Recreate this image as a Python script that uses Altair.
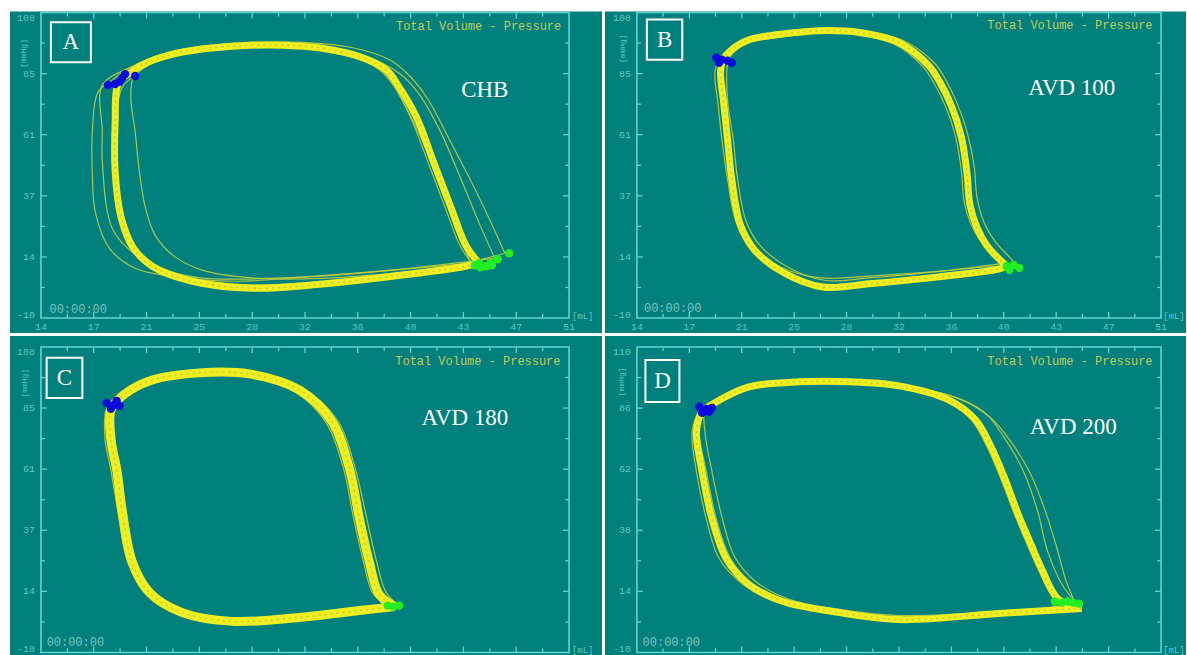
import altair as alt
import pandas as pd

# ---------------------------------------------------------------- styling
MONO = "Liberation Mono"
SERIF = "Liberation Serif"
TEAL = "#00807c"
FRAME = "#62d2d2"
LABEL = "#58c8c8"
CAPTION = "#c9c955"
CLOCK = "#7cc2c0"
BAND = "#eeee22"
STRAND = "#c2cc40"
SPECKLE = "#a9b51e"
ES_BLUE = "#0b0bdc"
ED_GREEN = "#22ee22"

# ---------------------------------------------------------------- axes
VOL_TICKS = [14.0, 17.7, 21.4, 25.1, 28.8, 32.5, 36.2, 39.9, 43.6, 47.3, 51.0]
VOL_LABELS = ["14", "17", "21", "25", "28", "32", "36", "40", "43", "47", "51"]
P_TICKS = [-10.0, 13.6, 37.2, 60.8, 84.4, 108.0]
P_LABELS = ["-10", "14", "37", "61", "85", "108"]
P_TICKS_D = [-10.0, 14.0, 38.0, 62.0, 86.0, 110.0]
P_LABELS_D = ["-10", "14", "38", "62", "86", "110"]

# ---------------------------------------------------------------- loops (volume mL, pressure mmHg)
A_MAIN = [(44.7, 11.2), (43.8, 17.7), (42.7, 33.1), (41.5, 50.4), (40.3, 67.7), (39.1, 79.2),
          (38.2, 85.8), (36.4, 90.8), (33.7, 94.2), (30.9, 95.4), (27.4, 95.0), (23.9, 92.7),
          (21.5, 88.8), (20.1, 84.2), (19.4, 80.4), (19.2, 65.8), (19.2, 46.5), (19.6, 29.2),
          (20.4, 17.7), (21.8, 10.0), (24.6, 4.2), (28.8, 1.5), (33.7, 3.1), (39.2, 6.5),
          (43.4, 9.6), (44.7, 11.2)]
A_OUTER_LEFT = [(44.1, 11.2), (43.1, 25.4), (42.0, 40.8), (40.6, 60.0), (39.2, 75.4), (38.2, 84.2),
                (35.7, 91.9), (32.3, 95.0), (28.8, 95.8), (25.3, 94.6), (22.5, 91.9), (20.3, 86.9),
                (19.0, 81.9), (18.0, 77.3), (17.6, 61.9), (17.6, 46.5), (17.8, 31.2), (18.8, 16.9),
                (20.6, 9.2), (23.0, 6.2), (27.6, 4.2), (32.3, 5.8), (39.2, 8.8), (44.1, 11.2)]
A_OUTER_RIGHT = [(46.5, 15.0), (45.5, 27.3), (44.5, 38.8), (42.7, 58.1), (41.1, 74.6), (39.9, 83.1),
                 (38.5, 89.6), (35.7, 94.6), (32.3, 96.5), (28.8, 96.5), (25.3, 95.0), (22.5, 91.9),
                 (20.6, 83.8), (19.7, 79.2), (19.2, 61.9), (19.4, 42.7), (19.9, 27.3), (21.1, 13.8),
                 (23.2, 7.3), (27.4, 3.1), (32.3, 3.5), (39.2, 7.3), (43.4, 10.8), (46.5, 15.0)]
A_MID = [(45.8, 13.1), (44.8, 25.4), (43.5, 42.7), (42.0, 61.9), (40.5, 76.5), (39.2, 84.2),
         (36.4, 91.9), (32.3, 95.4), (28.8, 95.8), (25.3, 94.6), (22.5, 91.9), (20.3, 86.9),
         (18.3, 80.0), (18.3, 61.9), (18.3, 50.4), (19.0, 24.6), (20.6, 14.6), (23.0, 8.1),
         (25.3, 5.4), (32.3, 5.8), (39.2, 8.8), (45.8, 13.1)]
A_INNER = [(44.3, 10.5), (43.4, 17.5), (42.3, 33.0), (41.1, 50.5), (39.9, 67.5), (38.8, 79.0),
           (37.8, 85.5), (36.2, 90.3), (33.7, 93.7), (30.9, 94.9), (27.4, 94.5), (23.9, 92.2),
           (21.6, 88.3), (20.5, 83.5), (20.3, 75.0), (20.6, 62.0), (20.9, 46.5), (21.3, 33.0),
           (22.0, 22.0), (23.3, 14.0), (25.3, 8.5), (28.8, 5.5), (33.7, 5.3), (39.2, 7.5),
           (44.3, 10.5)]
A_ES = [(18.7, 80.0), (19.2, 80.4), (19.5, 81.2), (19.7, 82.7), (19.9, 84.2), (20.6, 83.5)]
A_ED = [(44.4, 10.4), (44.7, 11.2), (44.8, 9.6), (45.2, 10.0), (45.5, 11.2), (45.6, 10.4),
        (46.0, 12.7), (46.8, 15.0)]

B_MAIN = [(40.1, 10.1), (39.6, 12.6), (38.7, 18.0), (38.0, 25.0), (37.5, 34.0), (37.3, 46.0),
          (36.9, 60.0), (36.2, 72.0), (35.4, 81.0), (34.6, 87.5), (32.5, 96.4), (29.7, 100.3),
          (26.9, 101.0), (24.0, 99.5), (21.9, 97.5), (20.7, 93.7), (20.1, 89.8), (19.9, 85.2),
          (20.1, 74.3), (20.4, 58.9), (20.7, 43.4), (21.3, 26.0), (22.3, 16.3), (24.4, 7.4),
          (27.1, 2.0), (30.4, 3.2), (35.3, 5.9), (39.6, 9.0), (40.1, 10.1)]
B_OUTER = [(41.0, 9.3), (40.3, 13.5), (39.3, 19.5), (38.5, 27.0), (38.0, 37.0), (37.8, 49.0),
           (37.3, 62.0), (36.6, 73.0), (35.8, 82.0), (35.0, 88.5), (32.8, 97.2), (29.7, 101.0),
           (26.9, 101.5), (24.0, 100.0), (21.9, 98.0), (20.6, 94.5), (19.8, 89.8), (19.5, 85.0),
           (19.7, 74.0), (20.0, 59.0), (20.4, 43.5), (21.0, 27.0), (22.0, 17.5), (24.2, 9.5),
           (27.0, 5.5), (30.4, 6.2), (35.3, 8.0), (39.6, 10.0), (41.0, 9.3)]
B_INNER = [(39.8, 11.0), (39.2, 14.5), (38.3, 19.5), (37.6, 26.0), (37.1, 35.0), (36.9, 47.0),
           (36.5, 60.0), (35.8, 71.5), (35.0, 80.5), (34.2, 87.0), (32.3, 95.5), (29.7, 99.5),
           (26.9, 100.0), (24.0, 98.5), (22.0, 96.5), (20.8, 92.5), (20.4, 88.0), (20.4, 74.0),
           (20.8, 59.0), (21.1, 44.0), (21.7, 27.5), (22.7, 18.0), (24.7, 9.5), (27.3, 4.5),
           (30.4, 5.5), (35.3, 8.0), (39.8, 11.0)]
B_ES = [(19.6, 90.6), (20.0, 89.8), (20.4, 89.4), (20.7, 88.6), (19.8, 88.6)]
B_ED = [(40.1, 10.1), (40.6, 10.5), (41.0, 9.3), (40.3, 8.6)]

C_MAIN = [(38.8, 7.7), (37.7, 12.4), (37.0, 25.1), (36.3, 42.1), (35.6, 61.3), (34.4, 79.1),
          (32.1, 91.4), (28.6, 97.6), (25.1, 98.0), (21.6, 94.9), (19.8, 89.5), (18.9, 83.7),
          (18.9, 72.1), (19.3, 60.6), (19.7, 44.0), (20.4, 24.7), (21.6, 13.1), (23.9, 5.4),
          (27.4, 2.0), (32.1, 3.5), (36.3, 6.2), (38.8, 7.7)]
C_OUTER = [(39.1, 8.1), (38.2, 13.0), (37.5, 25.5), (36.8, 42.5), (36.0, 61.5), (34.8, 79.5),
           (32.4, 91.8), (28.6, 98.2), (25.1, 98.6), (21.6, 95.5), (19.7, 90.0), (18.6, 84.0),
           (18.5, 72.0), (18.9, 60.5), (19.4, 44.0), (20.1, 24.5), (21.4, 12.5), (23.8, 4.6),
           (27.4, 1.2), (32.1, 2.8), (36.3, 5.6), (39.1, 8.1)]
C_INNER = [(38.5, 8.0), (37.3, 12.5), (36.6, 25.0), (35.9, 42.0), (35.2, 61.0), (34.0, 78.6),
           (31.8, 90.6), (28.6, 96.8), (25.1, 97.3), (21.7, 94.2), (20.0, 89.0), (19.2, 83.5),
           (19.2, 72.0), (19.6, 60.5), (20.0, 44.0), (20.7, 25.0), (21.9, 13.7), (24.1, 6.2),
           (27.4, 2.8), (32.1, 4.2), (36.3, 6.8), (38.5, 8.0)]
C_ES = [(18.6, 86.4), (19.1, 85.6), (19.5, 85.3), (18.9, 84.1), (19.3, 87.2)]
C_ED = [(38.3, 8.1), (38.7, 7.7), (39.1, 8.1)]

D_MAIN = [(45.4, 7.3), (43.7, 11.2), (42.6, 22.5), (41.8, 32.7), (40.9, 44.5), (40.0, 57.8),
          (39.0, 70.8), (37.9, 81.4), (36.0, 89.2), (32.5, 94.7), (29.0, 96.3), (25.5, 96.3),
          (21.9, 94.3), (19.6, 88.4), (18.6, 84.5), (18.2, 76.7), (18.6, 61.0), (19.3, 42.5),
          (20.3, 26.9), (21.9, 16.7), (24.3, 10.0), (27.8, 6.1), (32.5, 2.9), (39.5, 5.3),
          (45.4, 7.3)]
D_OUTER_RIGHT = [(45.2, 8.4), (44.1, 15.9), (43.0, 29.6), (42.3, 45.3), (41.3, 61.0), (39.9, 74.7),
                 (38.5, 84.5), (36.4, 90.4), (32.5, 94.7), (29.0, 96.3), (25.5, 95.9), (21.9, 93.9),
                 (19.6, 88.0), (18.8, 84.5), (18.8, 76.7), (19.3, 61.0), (20.0, 43.3), (20.9, 27.6),
                 (22.4, 17.8), (24.8, 10.8), (28.3, 6.9), (32.5, 4.5), (39.5, 6.1), (45.2, 8.4)]
D_OUTER_LEFT = [(44.8, 9.2), (43.4, 12.0), (42.3, 23.0), (41.5, 33.0), (40.6, 45.0), (39.7, 58.0),
                (38.7, 71.0), (37.6, 81.5), (35.8, 89.5), (32.5, 95.3), (29.0, 97.0), (25.5, 97.0),
                (21.9, 95.0), (19.5, 89.0), (18.4, 84.5), (17.9, 76.7), (18.2, 61.0), (18.9, 42.5),
                (19.8, 26.9), (21.5, 16.7), (23.8, 10.0), (27.8, 5.5), (32.5, 2.5), (39.5, 5.0),
                (44.8, 9.2)]
D_FAR_RIGHT = [(45.0, 8.8), (44.3, 18.0), (43.6, 32.0), (42.8, 46.0), (41.8, 60.0), (40.5, 72.0),
               (39.0, 82.0), (36.8, 89.5), (32.5, 95.0), (29.0, 96.6), (25.5, 96.6), (21.9, 94.6),
               (19.6, 88.6), (18.7, 84.5), (18.4, 76.7), (18.9, 61.0), (19.6, 42.5), (20.6, 26.9),
               (22.2, 16.7), (24.6, 10.3), (27.8, 6.6), (32.5, 3.4), (39.5, 5.6), (45.0, 8.8)]
D_ES = [(18.4, 86.5), (18.9, 85.7), (19.3, 86.1), (18.6, 84.1), (19.1, 84.5)]
D_ED = [(43.5, 10.0), (44.0, 9.6), (44.4, 10.0), (44.8, 9.6), (45.2, 9.2)]

# ---------------------------------------------------------------- layout (px)
H = 306
W_LEFT, W_RIGHT = 529, 525


def minor(ticks):
    return [(a + b) / 2 for a, b in zip(ticks[:-1], ticks[1:])]


def loop_frame(traces):
    rows = []
    for name, pts in traces.items():
        for i, (v, p) in enumerate(pts):
            rows.append({"trace": name, "i": i, "v": v, "p": p})
    return pd.DataFrame(rows)


def points_frame(pts):
    return pd.DataFrame({"v": [a for a, _ in pts], "p": [b for _, b in pts]})


def make_panel(letter, name, main, strands, es, ed, p_ticks, p_labels, width, show_x,
               band_width, ext, caption_at, clock_at, name_at, box, ml_at, mmhg_at):
    xs = alt.Scale(domain=[VOL_TICKS[0], VOL_TICKS[-1]], nice=False, zero=False)
    ys = alt.Scale(domain=[p_ticks[0], p_ticks[-1]], nice=False, zero=False)
    X = lambda f: alt.X(f, scale=xs, axis=None)
    Y = lambda f: alt.Y(f, scale=ys, axis=None)
    one = pd.DataFrame({"k": [0]})
    layers = []

    # monitor backdrop of the panel
    layers.append(alt.Chart(one).mark_rect(color=TEAL).encode(
        x=alt.value(-ext[0]), x2=alt.value(width + ext[1]),
        y=alt.value(-ext[2]), y2=alt.value(H + ext[3])))

    # plot frame
    frame = pd.DataFrame({"v1": [VOL_TICKS[0]], "v2": [VOL_TICKS[-1]],
                          "p1": [p_ticks[0]], "p2": [p_ticks[-1]]})
    layers.append(alt.Chart(frame).mark_rect(fillOpacity=0, stroke=FRAME, strokeWidth=1.6).encode(
        x=X("v1:Q"), x2="v2:Q", y=Y("p1:Q"), y2="p2:Q"))

    # inward tick marks on all four sides
    for vals, ln in ((p_ticks[1:-1], 6), (minor(p_ticks), 4)):
        base = alt.Chart(pd.DataFrame({"t": vals})).mark_rule(color=FRAME, strokeWidth=1.3)
        layers.append(base.encode(y=Y("t:Q"), x=alt.value(0), x2=alt.value(ln)))
        layers.append(base.encode(y=Y("t:Q"), x=alt.value(width - ln), x2=alt.value(width)))
    for vals, ln in ((VOL_TICKS[1:-1], 6), (minor(VOL_TICKS), 4)):
        base = alt.Chart(pd.DataFrame({"t": vals})).mark_rule(color=FRAME, strokeWidth=1.3)
        layers.append(base.encode(x=X("t:Q"), y=alt.value(0), y2=alt.value(ln)))
        layers.append(base.encode(x=X("t:Q"), y=alt.value(H - ln), y2=alt.value(H)))

    # tick labels: pressure on the left, volume underneath
    lab = dict(font=MONO, fontSize=10, color=LABEL)
    ylab = pd.DataFrame({"t": p_ticks, "s": p_labels})
    for rows, dy in ((ylab.iloc[[0]], -3), (ylab.iloc[1:-1], 0), (ylab.iloc[[-1]], 5)):
        layers.append(alt.Chart(rows).mark_text(align="right", baseline="middle", dx=-6, dy=dy,
                                                **lab).encode(
            x=alt.value(0), y=Y("t:Q"), text="s:N"))
    if show_x:
        xlab = pd.DataFrame({"t": VOL_TICKS, "s": VOL_LABELS})
        layers.append(alt.Chart(xlab).mark_text(align="center", baseline="top", **lab).encode(
            x=X("t:Q"), y=alt.value(H + 4), text="s:N"))

    # individual beats that stray from the main band
    layers.append(alt.Chart(loop_frame(strands)).mark_line(
        interpolate="catmull-rom", color=STRAND, strokeWidth=1.2, opacity=0.9).encode(
        x=X("v:Q"), y=Y("p:Q"), detail="trace:N", order="i:Q"))

    # dense band of overlapping beats
    band = loop_frame({"main": main})
    layers.append(alt.Chart(band).mark_line(
        interpolate="catmull-rom", color=BAND, strokeWidth=band_width, strokeJoin="round").encode(
        x=X("v:Q"), y=Y("p:Q"), detail="trace:N", order="i:Q"))
    layers.append(alt.Chart(band).mark_line(
        interpolate="catmull-rom", color=SPECKLE, strokeWidth=1.4, strokeDash=[2, 4],
        opacity=0.55).encode(x=X("v:Q"), y=Y("p:Q"), detail="trace:N", order="i:Q"))

    # end-diastolic and end-systolic markers
    layers.append(alt.Chart(points_frame(ed)).mark_circle(size=70, color=ED_GREEN, opacity=1).encode(
        x=X("v:Q"), y=Y("p:Q")))
    layers.append(alt.Chart(points_frame(es)).mark_circle(size=70, color=ES_BLUE, opacity=1).encode(
        x=X("v:Q"), y=Y("p:Q")))

    # panel letter in a box
    bx = pd.DataFrame({"v1": [box[0]], "v2": [box[1]], "p1": [box[2]], "p2": [box[3]]})
    layers.append(alt.Chart(bx).mark_rect(fillOpacity=0, stroke="white", strokeWidth=2).encode(
        x=X("v1:Q"), x2="v2:Q", y=Y("p1:Q"), y2="p2:Q"))

    def text(at, label, **kw):
        d = pd.DataFrame({"v": [at[0]], "p": [at[1]], "s": [label]})
        return alt.Chart(d).mark_text(**kw).encode(x=X("v:Q"), y=Y("p:Q"), text="s:N")

    layers.append(text(((box[0] + box[1]) / 2, (box[2] + box[3]) / 2), letter, font=SERIF,
                       fontSize=23, color="white", align="center", baseline="middle"))
    layers.append(text(name_at, name, font=SERIF, fontSize=23, color="white",
                       align="center", baseline="middle"))
    layers.append(text(caption_at, "Total Volume - Pressure", font=MONO, fontSize=12,
                       color=CAPTION, align="right", baseline="middle"))
    layers.append(text(clock_at, "00:00:00", font=MONO, fontSize=12, color=CLOCK,
                       align="left", baseline="middle"))
    layers.append(text(ml_at, "[mL]", font=MONO, fontSize=9, color=LABEL,
                       align="left", baseline="middle"))
    layers.append(text(mmhg_at, "[mmHg]", font=MONO, fontSize=8, color=LABEL,
                       align="center", baseline="middle", angle=270))

    return alt.layer(*layers).properties(width=width, height=H)


panel_a = make_panel("A", "CHB", A_MAIN,
                     {"outer_left": A_OUTER_LEFT, "outer_right": A_OUTER_RIGHT,
                      "mid": A_MID, "inner": A_INNER},
                     A_ES, A_ED, P_TICKS, P_LABELS, W_LEFT, True, 7, (31, 33, 1, 15),
                     (50.45, 102.7), (14.6, -6.5), (45.1, 78.1), (14.7, 17.5, 88.8, 104.2),
                     (51.2, -9.2), (12.8, 92.2))
panel_b = make_panel("B", "AVD 100", B_MAIN, {"outer": B_OUTER, "inner": B_INNER},
                     B_ES, B_ED, P_TICKS, P_LABELS, W_RIGHT, True, 7, (32, 25, 1, 15),
                     (50.4, 103.0), (14.5, -6.1), (44.7, 79.0), (14.7, 17.2, 89.8, 105.3),
                     (51.15, -9.2), (13.05, 94.0))
panel_c = make_panel("C", "AVD 180", C_MAIN, {"outer": C_OUTER, "inner": C_INNER},
                     C_ES, C_ED, P_TICKS, P_LABELS, W_LEFT, False, 9, (31, 33, 11, 3),
                     (50.4, 102.6), (14.4, -6.1), (43.7, 80.6), (14.4, 16.9, 88.3, 103.8),
                     (51.2, -9.2), (12.9, 94.0))
panel_d = make_panel("D", "AVD 200", D_MAIN,
                     {"outer_right": D_OUTER_RIGHT, "outer_left": D_OUTER_LEFT,
                      "far_right": D_FAR_RIGHT},
                     D_ES, D_ED, P_TICKS_D, P_LABELS_D, W_RIGHT, False, 7, (32, 25, 11, 3),
                     (50.4, 104.5), (14.4, -5.7), (44.8, 78.6), (14.6, 17.0, 88.4, 104.9),
                     (51.15, -9.2), (12.95, 96.3))

chart = alt.concat(
    panel_a, panel_b, panel_c, panel_d,
    columns=2, spacing={"row": 29, "column": 68}, bounds="flush",
).properties(
    padding={"left": 9, "top": 10, "right": 0, "bottom": 0},
).configure(background="white").configure_view(stroke="transparent")

chart.save("out.html", embed_options={"renderer": "svg", "actions": False})
